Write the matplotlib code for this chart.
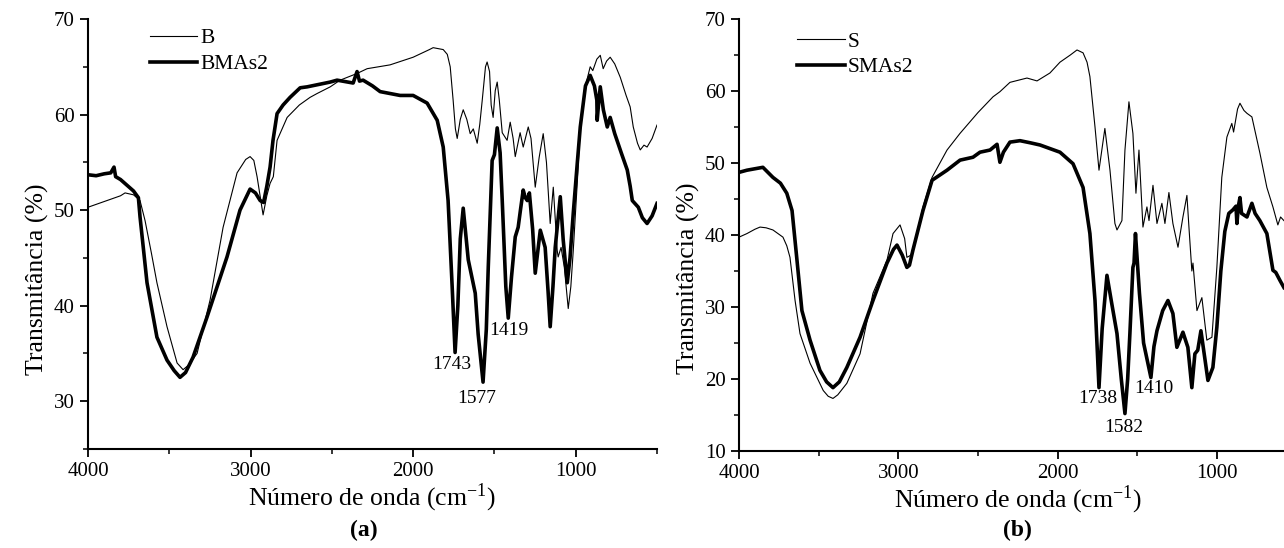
import numpy as np
import matplotlib
matplotlib.use("Agg")
import matplotlib.pyplot as plt
from matplotlib.ticker import MultipleLocator

plt.rcParams['font.family'] = ['Liberation Serif', 'DejaVu Serif']
plt.rcParams['mathtext.fontset'] = 'stix'

# espectro B (linha fina), painel (a)
b_wn = [4000, 3950, 3900, 3850, 3800, 3772, 3720, 3680, 3649, 3610, 3576, 3514, 3452, 3415, 3380, 3329,
        3249, 3169, 3083, 3030, 3003, 2980, 2960, 2923, 2900, 2880, 2860, 2837, 2775, 2700, 2634, 2591,
        2510, 2449, 2345, 2283, 2142, 2000, 1900, 1877, 1815, 1790, 1772, 1754, 1740, 1729, 1710, 1692,
        1670, 1649, 1630, 1606, 1590, 1575, 1555, 1545, 1530, 1520, 1508, 1495, 1483, 1470, 1452, 1422,
        1403, 1385, 1372, 1342, 1323, 1292, 1275, 1249, 1225, 1200, 1180, 1157, 1138, 1114, 1108, 1090,
        1070, 1046, 1030, 1015, 990, 972, 940, 911, 895, 870, 849, 831, 810, 788, 760, 726, 690, 665,
        646, 620, 603, 580, 561, 530, 500]
b_t = [50.3, 50.6, 50.9, 51.2, 51.5, 51.8, 51.6, 51.0, 48.9, 45.5, 42.4, 37.8, 34.0, 33.3, 33.8, 35.0,
       40.6, 48.2, 53.9, 55.3, 55.6, 55.2, 53.5, 49.5, 51.5, 52.8, 53.5, 57.3, 59.7, 61.0, 61.8, 62.2,
       62.9, 63.6, 64.3, 64.8, 65.2, 66.0, 66.8, 67.0, 66.8, 66.3, 65.0, 61.5, 58.5, 57.5, 59.5, 60.5,
       59.5, 58.0, 58.5, 57.0, 59.0, 61.5, 65.0, 65.5, 64.5, 61.0, 59.7, 62.5, 63.4, 61.5, 58.1, 57.3,
       59.2, 57.5, 55.6, 58.1, 56.6, 58.7, 57.5, 52.4, 55.5, 58.0, 55.0, 48.6, 52.4, 45.8, 45.1, 46.1,
       44.0, 39.7, 42.0, 45.8, 53.0, 58.7, 63.0, 65.0, 64.6, 65.8, 66.2, 64.8, 65.6, 66.0, 65.3, 63.9,
       62.0, 60.8, 58.7, 57.0, 56.3, 56.8, 56.6, 57.5, 58.9]

# espectro BMAs2 (linha grossa), painel (a)
bm_wn = [4000, 3950, 3900, 3860, 3840, 3830, 3800, 3760, 3720, 3690, 3680, 3637, 3576, 3514, 3470, 3434,
         3400, 3354, 3268, 3145, 3065, 3003, 2970, 2941, 2920, 2900, 2880, 2862, 2837, 2800, 2757, 2695,
         2652, 2510, 2468, 2369, 2345, 2330, 2308, 2250, 2203, 2080, 2000, 1914, 1852, 1815, 1785, 1760,
         1742, 1725, 1710, 1692, 1661, 1618, 1600, 1570, 1550, 1538, 1514, 1500, 1483, 1465, 1452, 1430,
         1415, 1395, 1372, 1354, 1340, 1323, 1310, 1298, 1285, 1265, 1249, 1218, 1188, 1170, 1157, 1140,
         1126, 1095, 1077, 1052, 1035, 1015, 990, 972, 940, 911, 885, 870, 868, 860, 849, 830, 806, 788,
         760, 720, 683, 665, 652, 615, 590, 561, 530, 500]
bm_t = [53.7, 53.6, 53.8, 53.9, 54.5, 53.5, 53.2, 52.6, 52.0, 51.3, 49.3, 42.4, 36.7, 34.3, 33.2, 32.5,
        33.0, 34.6, 38.8, 45.1, 50.0, 52.2, 51.8, 51.0, 50.8, 52.5, 54.5, 57.3, 60.1, 61.0, 61.8, 62.8,
        62.9, 63.4, 63.6, 63.3, 64.5, 63.5, 63.6, 63.0, 62.4, 62.0, 62.0, 61.2, 59.4, 56.6, 51.0, 42.0,
        35.1, 40.0, 47.0, 50.2, 44.8, 41.3, 37.0, 32.0, 37.5, 44.0, 55.2, 55.8, 58.6, 56.0, 51.0, 42.0,
        38.7, 43.0, 47.2, 48.2, 50.0, 52.1, 51.3, 51.0, 51.8, 48.0, 43.4, 47.9, 46.1, 41.5, 37.8, 42.0,
        46.1, 51.4, 46.9, 42.4, 45.0, 49.7, 55.0, 58.7, 63.0, 64.1, 63.0, 61.5, 59.4, 61.0, 62.9, 60.5,
        58.7, 59.7, 58.0, 56.0, 54.2, 52.5, 51.0, 50.3, 49.2, 48.6, 49.4, 50.7]

# espectro S (linha fina), painel (b)
s_wn = [4000, 3950, 3900, 3868, 3830, 3787, 3724, 3700, 3680, 3648, 3617, 3554, 3471, 3440, 3410, 3380,
        3323, 3240, 3159, 3071, 3033, 2989, 2960, 2946, 2920, 2880, 2845, 2788, 2694, 2613, 2500, 2405,
        2362, 2299, 2192, 2129, 2048, 1985, 1920, 1878, 1840, 1815, 1797, 1765, 1740, 1703, 1671, 1640,
        1627, 1596, 1577, 1552, 1527, 1508, 1489, 1464, 1439, 1426, 1401, 1376, 1345, 1326, 1301, 1276,
        1244, 1213, 1188, 1175, 1157, 1150, 1125, 1094, 1063, 1031, 1000, 969, 937, 906, 895, 870, 855,
        830, 811, 780, 730, 686, 648, 617, 600, 579]
s_t = [39.7, 40.2, 40.8, 41.1, 41.0, 40.7, 39.7, 38.5, 36.9, 30.9, 26.3, 22.2, 18.4, 17.6, 17.3, 17.8,
       19.4, 23.5, 31.9, 36.5, 40.2, 41.4, 39.5, 36.9, 37.2, 40.5, 43.9, 48.0, 51.8, 54.1, 57.0, 59.2,
       59.9, 61.2, 61.8, 61.4, 62.5, 64.0, 65.0, 65.7, 65.3, 64.0, 62.0, 55.0, 49.0, 54.8, 49.0, 41.6,
       40.7, 42.0, 51.8, 58.5, 54.1, 45.8, 51.8, 41.1, 43.9, 42.0, 46.9, 41.6, 44.4, 41.6, 45.9, 41.6,
       38.3, 42.5, 45.5, 41.0, 35.0, 36.1, 29.5, 31.3, 25.4, 25.8, 35.5, 48.0, 53.6, 55.5, 54.3, 57.5,
       58.3, 57.3, 56.9, 56.4, 51.4, 46.6, 43.9, 41.4, 42.5, 42.0]

# espectro SMAs2 (linha grossa), painel (b)
sm_wn = [4000, 3950, 3900, 3850, 3787, 3740, 3700, 3667, 3636, 3605, 3554, 3492, 3450, 3410, 3370, 3323,
         3240, 3159, 3071, 3030, 3008, 2975, 2946, 2930, 2908, 2845, 2788, 2694, 2612, 2531, 2487, 2424,
         2380, 2362, 2340, 2299, 2236, 2170, 2110, 1985, 1903, 1840, 1797, 1765, 1740, 1720, 1690, 1660,
         1627, 1600, 1577, 1560, 1546, 1527, 1520, 1511, 1486, 1460, 1414, 1395, 1376, 1340, 1307, 1276,
         1251, 1213, 1182, 1157, 1138, 1120, 1100, 1056, 1025, 1000, 975, 950, 925, 899, 880, 874, 865,
         855, 845, 811, 780, 760, 730, 686, 648, 630, 604, 579]
sm_t = [48.7, 49.0, 49.2, 49.4, 48.0, 47.2, 45.8, 43.4, 36.5, 29.5, 25.4, 21.2, 19.6, 18.8, 19.6, 21.6,
        25.8, 30.9, 36.1, 38.0, 38.6, 37.2, 35.5, 35.8, 37.9, 43.4, 47.6, 49.0, 50.4, 50.8, 51.5, 51.8,
        52.6, 50.1, 51.5, 52.9, 53.1, 52.8, 52.5, 51.5, 49.9, 46.6, 40.2, 30.9, 18.8, 27.0, 34.4, 30.5,
        26.3, 20.0, 15.2, 20.0, 26.3, 35.5, 36.1, 40.2, 31.9, 25.0, 20.2, 24.5, 26.7, 29.5, 30.9, 29.1,
        24.4, 26.5, 24.4, 18.8, 23.5, 24.0, 26.7, 19.8, 21.6, 27.2, 35.0, 40.5, 43.0, 43.5, 44.0, 41.6,
        44.0, 45.2, 43.0, 42.5, 44.4, 43.0, 42.0, 40.2, 35.1, 34.8, 33.7, 32.7]

picos_a = ["1743", "1577", "1419"]
picos_a_pos = [(1763, 33.8), (1609, 30.3), (1412, 37.4)]
picos_b = ["1738", "1582", "1410"]
picos_b_pos = [(1747, 17.3), (1583, 13.3), (1395, 18.7)]

W, H = 1284, 548
fig = plt.figure(figsize=(W / 100, H / 100), dpi=100)
ax1 = fig.add_axes([88 / W, 1 - 449 / H, 569 / W, 430 / H])
ax2 = fig.add_axes([739 / W, 1 - 451 / H, 557.5 / W, 432 / H])


def estilo(ax, ymin, ymax, ylab_x, ylab_y):
    ax.set_xlim(4000, 500)
    ax.set_ylim(ymin, ymax)
    ax.xaxis.set_major_locator(MultipleLocator(1000))
    ax.xaxis.set_minor_locator(MultipleLocator(500))
    ax.yaxis.set_major_locator(MultipleLocator(10))
    ax.yaxis.set_minor_locator(MultipleLocator(5))
    for s in ['top', 'right']:
        ax.spines[s].set_visible(False)
    for s in ['left', 'bottom']:
        ax.spines[s].set_linewidth(1.5)
    ax.tick_params(which='major', direction='out', length=6, width=1.3, labelsize=15)
    ax.tick_params(which='minor', direction='out', length=3.5, width=1.1)
    ax.set_xlabel("Número de onda (cm$^{\\mathregular{-1}}$)", fontsize=18.5, labelpad=0)
    ax.set_ylabel("Transmitância (%)", fontsize=18.5)
    ax.yaxis.set_label_coords(ylab_x, ylab_y)


ax1.plot(b_wn, b_t, color='black', lw=0.8, label="B")
ax1.plot(bm_wn, bm_t, color='black', lw=2.6, label="BMAs2")
estilo(ax1, 25, 70, -0.068, 0.395)
for txt, (xx, yy) in zip(picos_a, picos_a_pos):
    ax1.text(xx, yy, txt, fontsize=14, ha='center', va='center')
ax1.legend(loc='upper left', bbox_to_anchor=(0.094, 0.999), frameon=False, fontsize=15.5,
           handlelength=2.2, handletextpad=0.15, labelspacing=0.28, borderaxespad=0)
ax1.text(0.485, -0.19, "(a)", transform=ax1.transAxes, ha='center', va='center',
         fontsize=17, fontweight='bold')

ax2.plot(s_wn, s_t, color='black', lw=0.8, label="S")
ax2.plot(sm_wn, sm_t, color='black', lw=2.6, label="SMAs2")
estilo(ax2, 10, 70, -0.07, 0.40)
for txt, (xx, yy) in zip(picos_b, picos_b_pos):
    ax2.text(xx, yy, txt, fontsize=14, ha='center', va='center')
ax2.legend(loc='upper left', bbox_to_anchor=(0.089, 0.99), frameon=False, fontsize=15.5,
           handlelength=2.2, handletextpad=0.15, labelspacing=0.25, borderaxespad=0)
ax2.text(0.5, -0.185, "(b)", transform=ax2.transAxes, ha='center', va='center',
         fontsize=17, fontweight='bold')

fig.savefig("out.png", dpi=100)
